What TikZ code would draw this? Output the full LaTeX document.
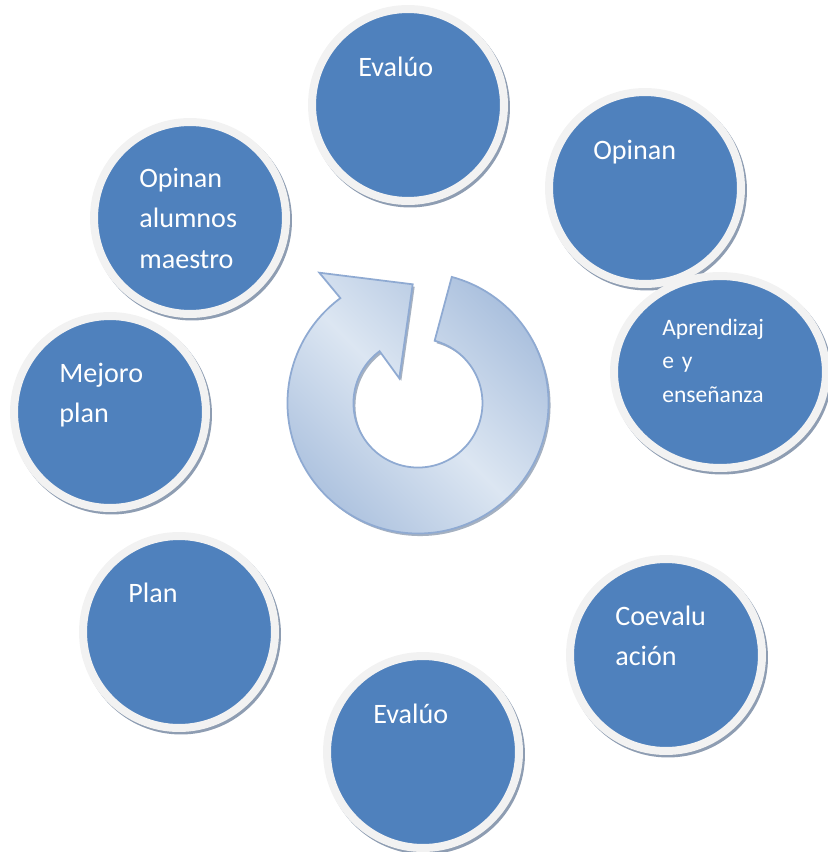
\documentclass[tikz,border=0pt]{standalone}
\usepackage{fontspec}
\setmainfont{Carlito}
\usepackage{xcolor}
\usepackage{tikz}
\usetikzlibrary{shapes.geometric}
\usetikzlibrary{shadows}

\definecolor{bubbleblue}{HTML}{4F81BD}
\definecolor{ringwhite}{HTML}{F2F2F2}
\definecolor{ringedge}{HTML}{E0E0E0}
\definecolor{shadowgray}{HTML}{8E9DB2}
\definecolor{arrowlight}{HTML}{DCE6F2}
\definecolor{arrowdark}{HTML}{A9BFDD}
\definecolor{arrowline}{HTML}{8FAAD2}

\begin{document}
\begin{tikzpicture}[x=0.02cm,y=0.02cm,
  bubble/.style={circle,fill=bubbleblue,draw=ringwhite,line width=0.16cm,minimum size=3.84cm,inner sep=0pt,
    drop shadow={shadow xshift=0.04cm,shadow yshift=-0.05cm,fill=shadowgray,draw=shadowgray,line width=0.16cm,opacity=1}},
  lbl/.style={text=white,anchor=base west,inner sep=0pt,align=left,text width=3.6cm,font=\fontsize{16}{23.3}\selectfont}]
 	\useasboundingbox (0,0) rectangle (828,-852);
 	% ciclo central
 	\shade[top color=arrowdark,bottom color=arrowdark,middle color=arrowlight,shading angle=-45,
 	  draw=arrowline,line width=1pt,
 	  drop shadow={shadow xshift=0.04cm,shadow yshift=-0.05cm,fill=shadowgray,opacity=0.8}]
 	  (418,-403) ++(75:130.5) arc[start angle=75,end angle=-233.5,radius=130.5]
 	  -- (319.3,-272.7) -- (412.7,-284.3) -- (399.3,-378.3) -- (379.6,-351.2)
 	  arc[start angle=126.5,end angle=435,radius=64.5] -- cycle;
 	% burbujas
 	\node[bubble] (evaluo) at (408,-105) {};
 	\node[lbl] (evaluotxt) at (358,-76) {Evalúo};
 	\node[bubble] (opinan) at (645,-188) {};
 	\node[lbl] (opinantxt) at (593,-159) {Opinan};
 	\node[bubble,ellipse,minimum width=4.24cm,minimum height=3.84cm] (aprend) at (720,-372) {};
 	\node[lbl,font=\fontsize{13.4}{19.3}\selectfont] (aprendtxt) at (662,-335) {Aprendizaj\\e y\\enseñanza};
 	\node[bubble] (coeval) at (666,-655) {};
 	\node[lbl] (coevaltxt) at (615,-625) {Coevalu\\ación};
 	\node[bubble] (evaluob) at (423,-752) {};
 	\node[lbl] (evaluobtxt) at (373,-723) {Evalúo};
 	\node[bubble] (plan) at (179,-632) {};
 	\node[lbl] (plantxt) at (128,-602) {Plan};
 	\node[bubble] (mejoro) at (110,-412) {};
 	\node[lbl] (mejorotxt) at (59,-382) {Mejoro\\plan};
 	\node[bubble] (opinanam) at (190,-218) {};
 	\node[lbl] (opinanamtxt) at (139,-187) {Opinan\\alumnos\\maestro};
\end{tikzpicture}
\end{document}
